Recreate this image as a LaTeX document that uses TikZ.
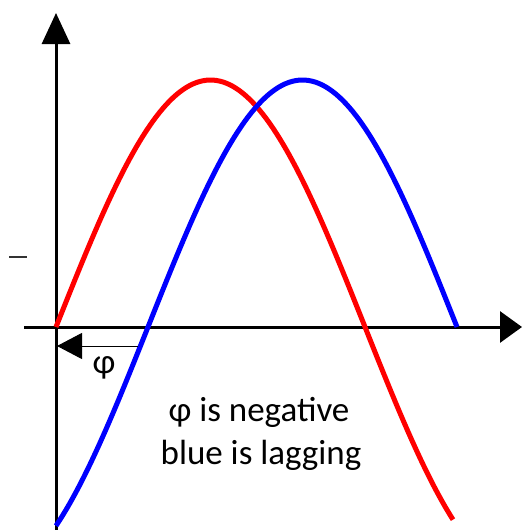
\documentclass[tikz,border=0pt]{standalone}
\usepackage{fontspec}
\setmainfont{Carlito}
\usetikzlibrary{arrows.meta}
\begin{document}
\begin{tikzpicture}[x=1pt,y=-1pt,
  axis/.style={line width=3pt,black},
  wave/.style={line width=5pt,line cap=butt},
  lbl/.style={font=\fontsize{35}{43}\selectfont,text=black,inner sep=0pt}]
\useasboundingbox (0,0) rectangle (522,530);
% axes
\draw[axis,-{Triangle[length=31pt,width=28pt]}] (56,530) -- (56,13);
\draw[axis,-{Triangle[length=22pt,width=31pt]}] (24,327) -- (522,327);
% tick
\draw[line width=1.2pt,black!80] (9,257) -- (27,257);
% curves
\draw[wave,red] plot[domain=0:397,samples=120] ({56+\x},{327-247*sin(\x/309*180)});
\draw[wave,blue] plot[domain=-92:309,samples=120] ({148+\x},{327-247*sin(\x/309*180)});
% phi arrow
\coordinate (pa) at (138,346);
\coordinate (pb) at (57,346);
\draw[line width=1pt,-{Triangle[length=25pt,width=26pt]}] (pa) -- (pb);
\node[lbl] (phi) at (104,368) {φ};
\node[lbl,anchor=base] (txt1) at (259,421) {φ is negative};
\node[lbl,anchor=base] (txt2) at (261,464) {blue is lagging};
\end{tikzpicture}
\end{document}
